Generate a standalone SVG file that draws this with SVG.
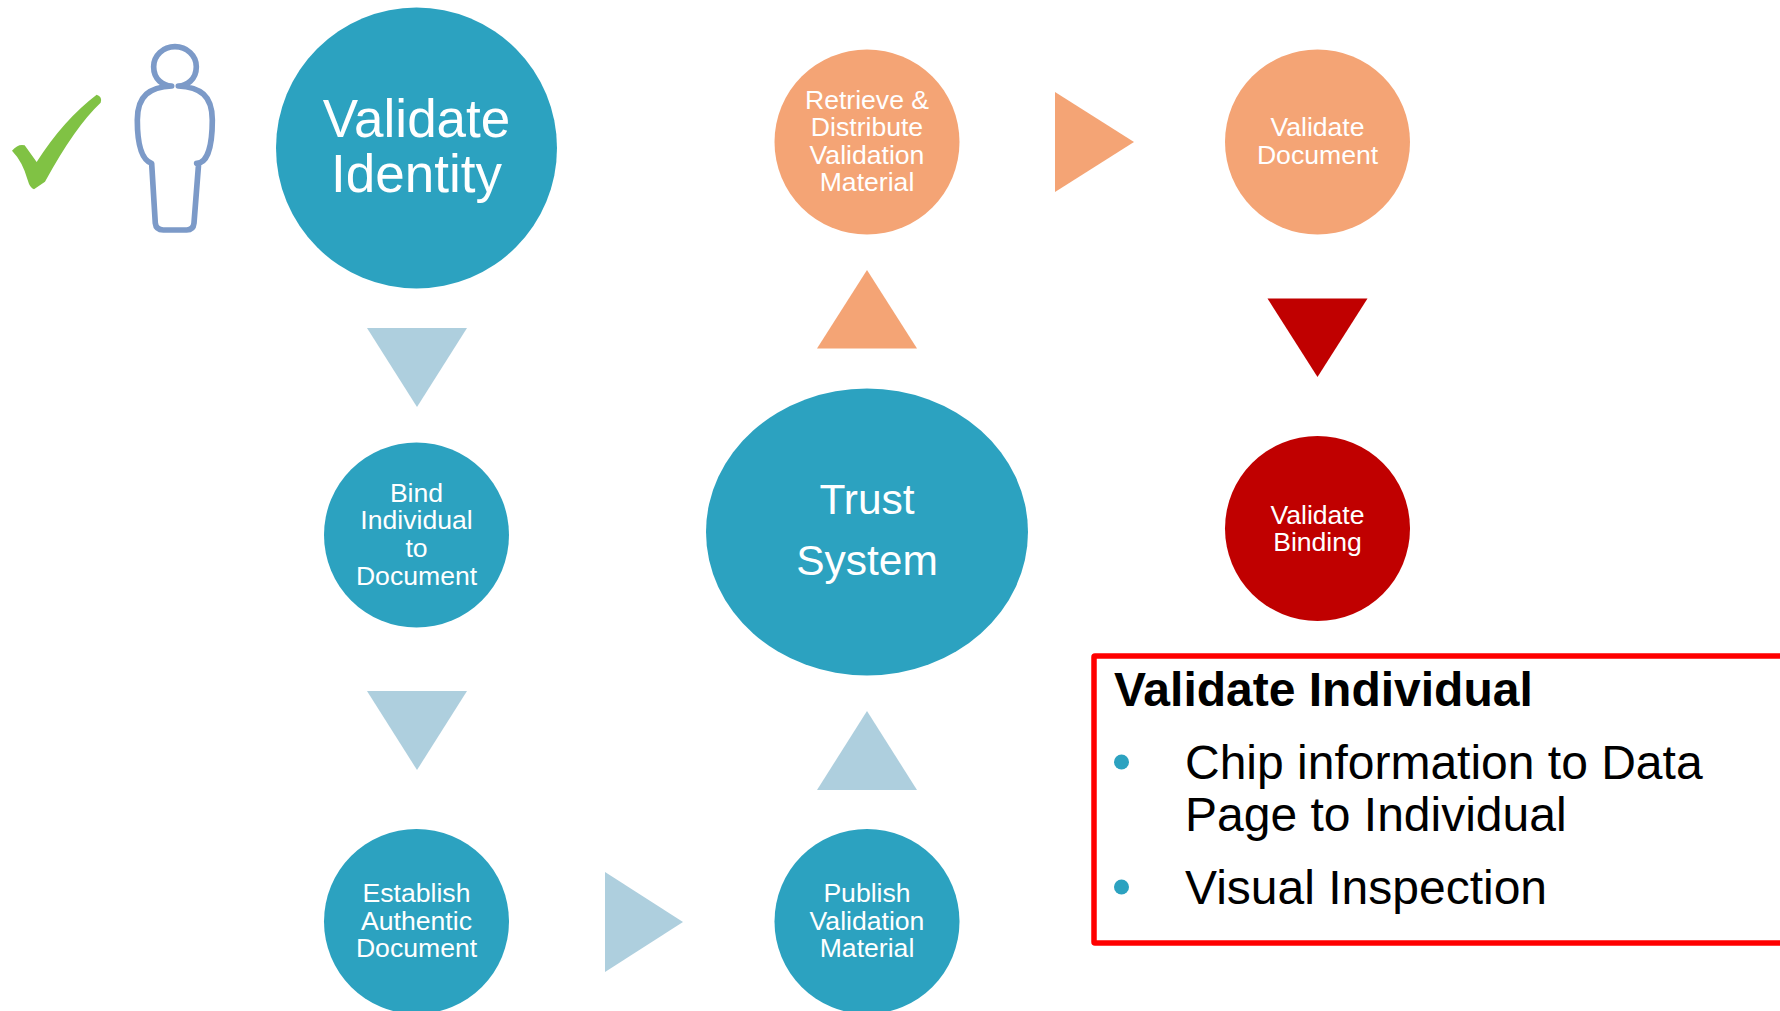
<svg xmlns="http://www.w3.org/2000/svg" width="1780" height="1011" viewBox="0 0 1780 1011">
<style>
text{font-family:"Liberation Sans",Arial,sans-serif;fill:#fff;text-anchor:middle}
.s{font-size:26.6px}
.teal{fill:#2ca2c0}.orange{fill:#f4a475}.red{fill:#c00000}.pale{fill:#aecfde}
.b{font-size:48px;fill:#000;text-anchor:start}
</style>
<rect width="1780" height="1011" fill="#fff"/>
<g id="check"><path d="M36 452Q55 430 74 436L110 486Q190 360 290 284Q308 290 302 308Q225 380 135 545L102 568Q90 565 83 540Q68 485 36 452Z" transform="scale(.3333)" fill="#80c244"/></g>
<g id="person" transform="scale(.3333)" fill="none" stroke="#7c9ac8" stroke-width="17" stroke-linejoin="round">
<path d="M515 258C490 258 461 238 461 200A64 60 0 0 1 589 200C589 238 560 258 535 258C600 262 637 285 637 360C637 430 625 490 590 490L596 490L582 670Q580 690 560 690L490 690Q468 690 466 670L455 490C425 480 412 430 412 360C412 285 450 262 515 258Z"/>
</g>
<g id="connectors">
<polygon class="pale" points="367,328 467,328 417,407"/>
<polygon class="pale" points="367,691 467,691 417,770"/>
<polygon class="pale" points="605,872 683,922 605,972"/>
<polygon class="pale" points="817,790 917,790 867,711"/>
<polygon class="orange" points="817,348.500 917,348.500 867,270"/>
<polygon class="orange" points="1055,92 1134,142 1055,192"/>
<polygon class="red" points="1267.500,298.500 1367.500,298.500 1317.500,377"/>
</g>
<g id="validate-identity"><circle class="teal" cx="416.500" cy="148" r="140.500"/><text x="416.500" y="137" font-size="53">Validate</text><text x="416.500" y="192" font-size="53">Identity</text></g>
<g id="bind"><circle class="teal" cx="416.500" cy="535" r="92.500"/><text class="s" x="416.500" y="502">Bind</text><text class="s" x="416.500" y="529">Individual</text><text class="s" x="416.500" y="557">to</text><text class="s" x="416.500" y="584.500">Document</text></g>
<g id="establish"><circle class="teal" cx="416.500" cy="921.500" r="92.500"/><text class="s" x="416.500" y="902">Establish</text><text class="s" x="416.500" y="930">Authentic</text><text class="s" x="416.500" y="957">Document</text></g>
<g id="publish"><circle class="teal" cx="867" cy="921.500" r="92.500"/><text class="s" x="867" y="902">Publish</text><text class="s" x="867" y="930">Validation</text><text class="s" x="867" y="957">Material</text></g>
<g id="trust-system"><ellipse class="teal" cx="867" cy="532" rx="161" ry="143.500"/><text x="867" y="514" font-size="42.500">Trust</text><text x="867" y="575" font-size="42.500">System</text></g>
<g id="retrieve"><circle class="orange" cx="867" cy="142" r="92.500"/><text class="s" x="867" y="108.500">Retrieve &amp;</text><text class="s" x="867" y="136">Distribute</text><text class="s" x="867" y="164">Validation</text><text class="s" x="867" y="191">Material</text></g>
<g id="validate-document"><circle class="orange" cx="1317.500" cy="142" r="92.500"/><text class="s" x="1317.500" y="136">Validate</text><text class="s" x="1317.500" y="164">Document</text></g>
<g id="validate-binding"><circle class="red" cx="1317.500" cy="528.500" r="92.500"/><text class="s" x="1317.500" y="523.500">Validate</text><text class="s" x="1317.500" y="551">Binding</text></g>
<g id="callout"><rect x="1094" y="656" width="690" height="287" rx="1" fill="#fff" stroke="#f00" stroke-width="5.500"/>
<text class="b" x="1114" y="706" font-weight="700">Validate Individual</text>
<circle class="teal" cx="1121.500" cy="762" r="7.500"/><text class="b" x="1185" y="779">Chip information to Data</text><text class="b" x="1185" y="831">Page to Individual</text>
<circle class="teal" cx="1121.500" cy="887" r="7.500"/><text class="b" x="1185" y="904">Visual Inspection</text></g>
</svg>
